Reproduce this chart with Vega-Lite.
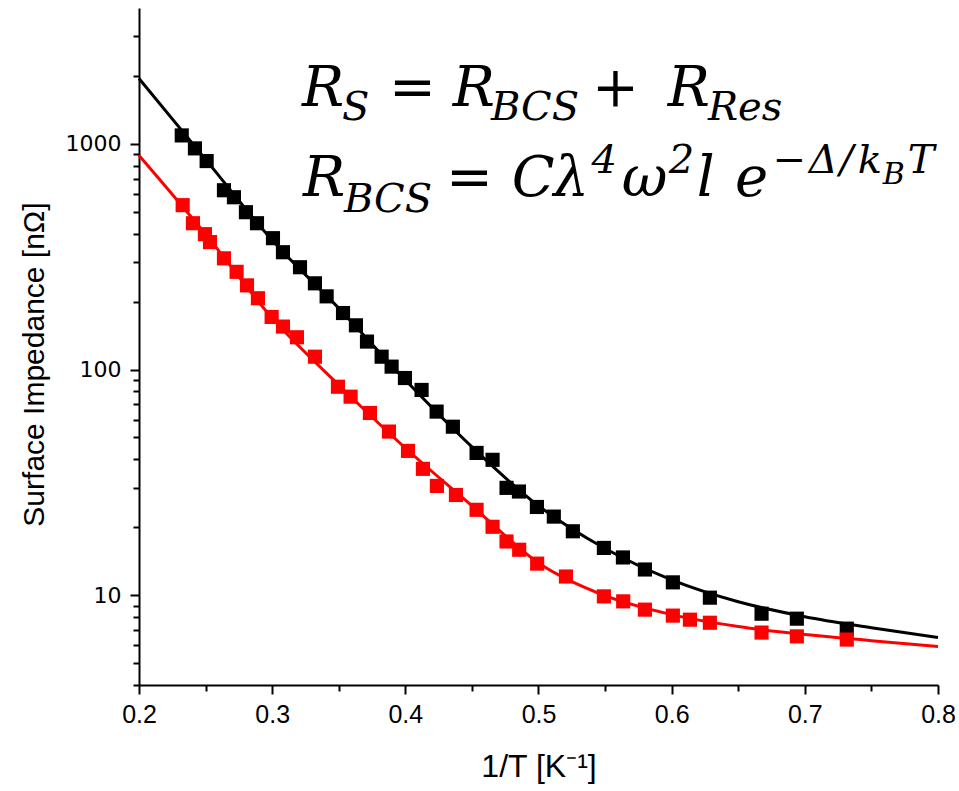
{
  "$schema": "https://vega.github.io/schema/vega-lite/v6.json",
  "width": 799,
  "height": 677,
  "autosize": {"type": "none"},
  "padding": {"left": 139, "top": 8, "right": 21, "bottom": 106},
  "background": "white",
  "config": {
    "view": {"stroke": null},
    "axis": {"grid": false, "domainColor": "black", "domainWidth": 2, "tickColor": "black", "tickWidth": 2, "labelColor": "black", "titleColor": "black", "titleFontWeight": "normal"}
  },
  "datasets": {
    "points": [
      {"s": "A", "x": 0.2321, "y": 1090}, {"s": "A", "x": 0.2420, "y": 955}, {"s": "A", "x": 0.2508, "y": 839},
      {"s": "A", "x": 0.2638, "y": 623}, {"s": "A", "x": 0.2713, "y": 580}, {"s": "A", "x": 0.2803, "y": 498},
      {"s": "A", "x": 0.2886, "y": 445}, {"s": "A", "x": 0.3006, "y": 382}, {"s": "A", "x": 0.3081, "y": 331},
      {"s": "A", "x": 0.3209, "y": 284}, {"s": "A", "x": 0.3321, "y": 241}, {"s": "A", "x": 0.3409, "y": 211},
      {"s": "A", "x": 0.3532, "y": 178}, {"s": "A", "x": 0.3629, "y": 157}, {"s": "A", "x": 0.3712, "y": 133},
      {"s": "A", "x": 0.3822, "y": 114}, {"s": "A", "x": 0.3897, "y": 103}, {"s": "A", "x": 0.3997, "y": 91.7},
      {"s": "A", "x": 0.4122, "y": 81.2}, {"s": "A", "x": 0.4235, "y": 65.1}, {"s": "A", "x": 0.4357, "y": 55.8},
      {"s": "A", "x": 0.4535, "y": 42.7}, {"s": "A", "x": 0.4655, "y": 39.8}, {"s": "A", "x": 0.4760, "y": 29.9},
      {"s": "A", "x": 0.4853, "y": 28.8}, {"s": "A", "x": 0.4988, "y": 24.6}, {"s": "A", "x": 0.5115, "y": 22.3},
      {"s": "A", "x": 0.5258, "y": 19.2}, {"s": "A", "x": 0.5491, "y": 16.2}, {"s": "A", "x": 0.5634, "y": 14.7},
      {"s": "A", "x": 0.5799, "y": 13.0}, {"s": "A", "x": 0.6009, "y": 11.4}, {"s": "A", "x": 0.6287, "y": 9.75},
      {"s": "A", "x": 0.6675, "y": 8.28}, {"s": "A", "x": 0.6940, "y": 7.87}, {"s": "A", "x": 0.7315, "y": 7.11},
      {"s": "B", "x": 0.2328, "y": 535}, {"s": "B", "x": 0.2405, "y": 445}, {"s": "B", "x": 0.2495, "y": 398},
      {"s": "B", "x": 0.2533, "y": 367}, {"s": "B", "x": 0.2638, "y": 311}, {"s": "B", "x": 0.2733, "y": 271},
      {"s": "B", "x": 0.2811, "y": 236}, {"s": "B", "x": 0.2893, "y": 207}, {"s": "B", "x": 0.2996, "y": 171},
      {"s": "B", "x": 0.3081, "y": 155}, {"s": "B", "x": 0.3186, "y": 139}, {"s": "B", "x": 0.3321, "y": 114},
      {"s": "B", "x": 0.3494, "y": 83.9}, {"s": "B", "x": 0.3589, "y": 75.8}, {"s": "B", "x": 0.3734, "y": 64.2},
      {"s": "B", "x": 0.3877, "y": 53.1}, {"s": "B", "x": 0.4020, "y": 43.6}, {"s": "B", "x": 0.4132, "y": 36.3},
      {"s": "B", "x": 0.4237, "y": 30.5}, {"s": "B", "x": 0.4380, "y": 27.8}, {"s": "B", "x": 0.4535, "y": 23.9},
      {"s": "B", "x": 0.4655, "y": 20.1}, {"s": "B", "x": 0.4760, "y": 17.3}, {"s": "B", "x": 0.4855, "y": 15.9},
      {"s": "B", "x": 0.4990, "y": 13.8}, {"s": "B", "x": 0.5206, "y": 12.1}, {"s": "B", "x": 0.5491, "y": 9.88},
      {"s": "B", "x": 0.5636, "y": 9.39}, {"s": "B", "x": 0.5799, "y": 8.63}, {"s": "B", "x": 0.6009, "y": 8.12},
      {"s": "B", "x": 0.6137, "y": 7.79}, {"s": "B", "x": 0.6287, "y": 7.55}, {"s": "B", "x": 0.6675, "y": 6.83},
      {"s": "B", "x": 0.6940, "y": 6.57}, {"s": "B", "x": 0.7315, "y": 6.36}
    ],
    "fits": [
      {"s": "A", "x": 0.20, "y": 1949}, {"s": "A", "x": 0.25, "y": 854}, {"s": "A", "x": 0.30, "y": 374},
      {"s": "A", "x": 0.35, "y": 187}, {"s": "A", "x": 0.40, "y": 89.8}, {"s": "A", "x": 0.45, "y": 45.4},
      {"s": "A", "x": 0.50, "y": 24.9}, {"s": "A", "x": 0.55, "y": 16.1}, {"s": "A", "x": 0.60, "y": 11.7},
      {"s": "A", "x": 0.65, "y": 9.36}, {"s": "A", "x": 0.70, "y": 8.03}, {"s": "A", "x": 0.75, "y": 7.18},
      {"s": "A", "x": 0.80, "y": 6.49},
      {"s": "B", "x": 0.20, "y": 889}, {"s": "B", "x": 0.25, "y": 398}, {"s": "B", "x": 0.30, "y": 169},
      {"s": "B", "x": 0.35, "y": 85.4}, {"s": "B", "x": 0.40, "y": 44.9}, {"s": "B", "x": 0.45, "y": 24.9},
      {"s": "B", "x": 0.50, "y": 13.9}, {"s": "B", "x": 0.55, "y": 9.95}, {"s": "B", "x": 0.60, "y": 8.2},
      {"s": "B", "x": 0.65, "y": 7.26}, {"s": "B", "x": 0.70, "y": 6.69}, {"s": "B", "x": 0.75, "y": 6.29},
      {"s": "B", "x": 0.80, "y": 5.92}
    ],
    "eq": [
      {"t": "R", "x": 0.3224, "y": 1465, "r": "base"},
      {"t": "S", "x": 0.3524, "y": 1271, "r": "sub"},
      {"t": "=", "x": 0.3877, "y": 1465, "r": "base"},
      {"t": "R", "x": 0.4357, "y": 1465, "r": "base"},
      {"t": "BCS", "x": 0.4643, "y": 1271, "r": "sub"},
      {"t": "+", "x": 0.5401, "y": 1465, "r": "base"},
      {"t": "R", "x": 0.5971, "y": 1465, "r": "base"},
      {"t": "Res", "x": 0.6272, "y": 1271, "r": "sub"},
      {"t": "R", "x": 0.3231, "y": 586, "r": "base"},
      {"t": "BCS", "x": 0.3539, "y": 500, "r": "sub"},
      {"t": "=", "x": 0.4305, "y": 586, "r": "base"},
      {"t": "C", "x": 0.4800, "y": 586, "r": "base"},
      {"t": "λ", "x": 0.5113, "y": 586, "r": "base"},
      {"t": "4", "x": 0.5398, "y": 745, "r": "sup"},
      {"t": "ω", "x": 0.5626, "y": 586, "r": "base"},
      {"t": "2", "x": 0.5979, "y": 745, "r": "sup"},
      {"t": "l", "x": 0.6189, "y": 586, "r": "base"},
      {"t": "e", "x": 0.6475, "y": 586, "r": "base"},
      {"t": "−", "x": 0.6760, "y": 745, "r": "sup"},
      {"t": "Δ", "x": 0.7030, "y": 745, "r": "sup"},
      {"t": "/", "x": 0.7263, "y": 745, "r": "sup"},
      {"t": "k", "x": 0.7398, "y": 745, "r": "sup"},
      {"t": "B", "x": 0.7586, "y": 662, "r": "subsub"},
      {"t": "T", "x": 0.7773, "y": 745, "r": "sup"}
    ]
  },
  "encoding": {
    "x": {
      "field": "x", "type": "quantitative",
      "scale": {"domain": [0.2, 0.8], "nice": false, "zero": false},
      "axis": {
        "title": "1/T [K⁻¹]",
        "values": [0.2, 0.25, 0.3, 0.35, 0.4, 0.45, 0.5, 0.55, 0.6, 0.65, 0.7, 0.75, 0.8],
        "labelExpr": "round(datum.value*100) % 10 == 0 ? format(datum.value, '.1f') : ''",
        "labelFlush": false, "labelOverlap": false,
        "labelFont": "Liberation Sans", "labelFontSize": 25, "labelPadding": 8,
        "tickSize": {"condition": {"test": "round(datum.value*100) % 10 == 0", "value": 9}, "value": 6},
        "titleFont": "Liberation Sans", "titleFontSize": 32, "titlePadding": 24
      }
    },
    "y": {
      "field": "y", "type": "quantitative",
      "scale": {"type": "log", "domain": [4, 4000], "nice": false},
      "axis": {
        "title": "Surface Impedance [nΩ]",
        "values": [4, 5, 6, 7, 8, 9, 10, 20, 30, 40, 50, 60, 70, 80, 90, 100, 200, 300, 400, 500, 600, 700, 800, 900, 1000, 2000, 3000],
        "labelExpr": "datum.value == 10 || datum.value == 100 || datum.value == 1000 ? format(datum.value, 'd') : ''",
        "labelFlush": false, "labelOverlap": false,
        "labelFont": "DejaVu Sans", "labelFontSize": 22, "labelPadding": 9,
        "tickSize": {"condition": {"test": "datum.value == 10 || datum.value == 100 || datum.value == 1000", "value": 9}, "value": 6},
        "titleFont": "Liberation Sans", "titleFontSize": 30, "titlePadding": 16, "titleY": 356
      }
    }
  },
  "layer": [
    {"data": {"name": "fits"}, "transform": [{"filter": "datum.s == 'A'"}], "mark": {"type": "line", "color": "black", "strokeWidth": 3, "interpolate": "monotone"}, "encoding": {}},
    {"data": {"name": "points"}, "transform": [{"filter": "datum.s == 'A'"}], "mark": {"type": "point", "shape": "square", "filled": true, "color": "black", "size": 200, "opacity": 1}, "encoding": {}},
    {"data": {"name": "fits"}, "transform": [{"filter": "datum.s == 'B'"}], "mark": {"type": "line", "color": "#ff0000", "strokeWidth": 3, "interpolate": "monotone"}, "encoding": {}},
    {"data": {"name": "points"}, "transform": [{"filter": "datum.s == 'B'"}], "mark": {"type": "point", "shape": "square", "filled": true, "color": "#ff0000", "size": 200, "opacity": 1}, "encoding": {}},
    {"data": {"name": "eq"}, "transform": [{"filter": "datum.r == 'base'"}], "mark": {"type": "text", "font": "DejaVu Serif", "fontStyle": "italic", "fontSize": 56, "align": "left", "baseline": "alphabetic", "color": "black"}, "encoding": {"text": {"field": "t"}}},
    {"data": {"name": "eq"}, "transform": [{"filter": "datum.r == 'sub' || datum.r == 'sup'"}], "mark": {"type": "text", "font": "DejaVu Serif", "fontStyle": "italic", "fontSize": 40, "align": "left", "baseline": "alphabetic", "color": "black"}, "encoding": {"text": {"field": "t"}}},
    {"data": {"name": "eq"}, "transform": [{"filter": "datum.r == 'subsub'"}], "mark": {"type": "text", "font": "DejaVu Serif", "fontStyle": "italic", "fontSize": 30, "align": "left", "baseline": "alphabetic", "color": "black"}, "encoding": {"text": {"field": "t"}}}
  ]
}
